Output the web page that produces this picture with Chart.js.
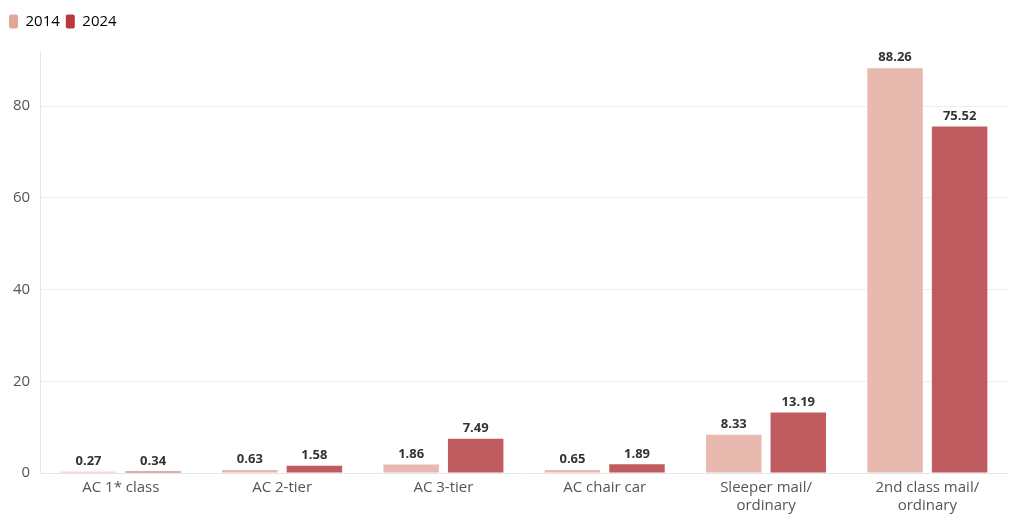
<!DOCTYPE html>
<html>
<head>
<meta charset="utf-8">
<script src="https://cdn.jsdelivr.net/npm/chart.js@4.4.1/dist/chart.umd.min.js"></script>
<style>
  html, body { margin: 0; padding: 0; background: #fff; }
  #wrap { width: 1020px; height: 523px; position: relative; }
</style>
</head>
<body>
<div id="wrap"><canvas id="densityCanvas"></canvas></div>
<script>
// categories and values
var categories = ['AC 1* class', 'AC 2-tier', 'AC 3-tier', 'AC chair car', ['Sleeper mail/', 'ordinary'], ['2nd class mail/', 'ordinary']];
var values2014 = [0.27, 0.63, 1.86, 0.65, 8.33, 88.26];
var values2024 = [0.34, 1.58, 7.49, 1.89, 13.19, 75.52];
var seriesNames = ['2014', '2024'];

var barColors = ['#e8b9ae', '#c05c5f'];
var legendColors = ['#dfa899', '#b8383e'];

// little plugin to write the value over each bar
var valueLabels = {
  id: 'valueLabels',
  afterDatasetsDraw: function(chart) {
    var ctx = chart.ctx;
    ctx.save();
    ctx.font = 'bold 13px "Open Sans", sans-serif';
    ctx.fillStyle = '#333';
    ctx.textAlign = 'center';
    ctx.textBaseline = 'bottom';
    chart.data.datasets.forEach(function(ds, i) {
      chart.getDatasetMeta(i).data.forEach(function(bar, j) {
        ctx.fillText(ds.data[j].toFixed(2), bar.x, bar.y - 4);
      });
    });
    ctx.restore();
  }
};

// push the plot down a bit under the legend
var legendGap = {
  id: 'legendGap',
  beforeInit: function(chart) {
    var origFit = chart.legend.fit;
    chart.legend.fit = function() {
      origFit.bind(chart.legend)();
      this.height += 12;
    };
  }
};

var densityCanvas = document.getElementById('densityCanvas');
var barChart = new Chart(densityCanvas, {
  type: 'bar',
  data: {
    labels: categories,
    datasets: [
      { label: seriesNames[0], data: values2014, backgroundColor: barColors[0], borderWidth: 0 },
      { label: seriesNames[1], data: values2024, backgroundColor: barColors[1], borderWidth: 0 }
    ]
  },
  options: {
    responsive: true,
    maintainAspectRatio: false,
    animation: false,
    categoryPercentage: 0.8,
    barPercentage: 0.86,
    layout: { padding: { left: 3, right: 12, top: 8, bottom: 2 } },
    plugins: {
      tooltip: { enabled: false },
      legend: {
        position: 'top',
        align: 'start',
        labels: {
          boxWidth: 9,
          boxHeight: 14,
          padding: 6,
          color: '#333',
          font: { family: '"Open Sans", sans-serif', size: 15 },
          useBorderRadius: true,
          borderRadius: 2,
          generateLabels: function(chart) {
            return chart.data.datasets.map(function(ds, i) {
              return {
                text: ds.label,
                fillStyle: legendColors[i],
                strokeStyle: legendColors[i],
                lineWidth: 0,
                borderRadius: 2,
                datasetIndex: i
              };
            });
          }
        }
      }
    },
    scales: {
      x: {
        grid: { display: false, drawTicks: false },
        border: { color: '#e6e6e6' },
        ticks: {
          color: '#555',
          padding: 6,
          maxRotation: 0,
          font: { family: '"Open Sans", sans-serif', size: 15 }
        }
      },
      y: {
        min: 0,
        max: 92,
        afterBuildTicks: function(axis) {
          axis.ticks = axis.ticks.filter(function(t) { return t.value % 20 === 0; });
        },
        ticks: {
          stepSize: 20,
          color: '#555',
          padding: 10,
          font: { family: '"Open Sans", sans-serif', size: 15 }
        },
        grid: { color: '#eeeeee', drawTicks: false },
        border: { color: '#e6e6e6' }
      }
    }
  },
  plugins: [valueLabels, legendGap]
});
</script>
</body>
</html>
